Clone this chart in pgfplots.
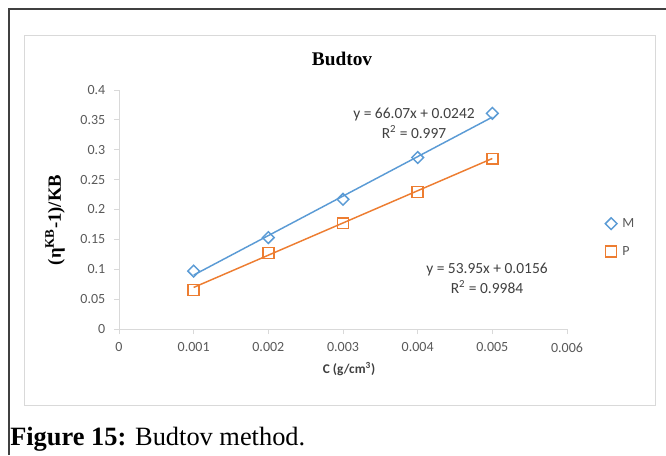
\documentclass[border=0pt]{standalone}
\usepackage{pgfplots}
\pgfplotsset{compat=1.18}
\usepackage{fontspec}
\setmainfont{Liberation Serif}
\newfontfamily\calibri{Carlito}

\definecolor{seriesM}{HTML}{5B9BD5}
\definecolor{seriesP}{HTML}{ED7D31}
\definecolor{framegray}{HTML}{404040}
\definecolor{boxgray}{HTML}{D9D9D9}
\definecolor{ticktext}{HTML}{595959}

\begin{document}
\begin{tikzpicture}
% page extent
\path[use as bounding box] (0pt,0pt) rectangle (499.5pt,-341.25pt);
% outer figure frame (left and top)
\draw[framegray, line width=1.5pt] (6.75pt,-341.25pt) -- (6.75pt,-6.75pt) -- (499.5pt,-6.75pt);
% chart area
\draw[boxgray, line width=0.75pt] (18pt,-26.25pt) rectangle (491.25pt,-303.75pt);

\begin{axis}[
  at={(89.25pt,-246.75pt)}, anchor=origin,
  scale only axis,
  width=336pt, height=179.25pt,
  xmin=0, xmax=0.006, ymin=0, ymax=0.4,
  axis lines=left,
  axis line style={boxgray, line width=0.75pt, -},
  scaled x ticks=false, scaled y ticks=false,
  xtick={0,0.001,0.002,0.003,0.004,0.005,0.006},
  ytick={0,0.05,0.1,0.15,0.2,0.25,0.3,0.35,0.4},
  xticklabels={0,0.001,0.002,0.003,0.004,0.005,0.006},
  yticklabels={0,0.05,0.1,0.15,0.2,0.25,0.3,0.35,0.4},
  tick align=outside,
  major tick length=3.75pt,
  tick style={boxgray, line width=0.75pt},
  ticklabel style={font=\calibri\fontsize{10.5}{12}\selectfont, text=ticktext},
  yticklabel style={xshift=-3pt},
  xticklabel style={yshift=-3pt},
  clip=false,
  legend style={draw=none, fill=none, at={(1.085,0.383)}, anchor=west,
    font=\calibri\fontsize{10.5}{12}\selectfont, text=ticktext,
    row sep=12.5pt, inner sep=0pt, nodes={inner xsep=1.5pt, inner ysep=0pt},
    /tikz/every odd column/.append style={column sep=2.5pt}},
  legend cell align=left,
  legend image code/.code={\draw plot coordinates {(0.15cm,0cm)};},
]
% trendlines
\addplot[seriesM, line width=1.1pt, forget plot] coordinates {(0.001,0.0903) (0.005,0.3546)};
\addplot[seriesP, line width=1.1pt, forget plot] coordinates {(0.001,0.0696) (0.005,0.2854)};
% measured points
\addplot[only marks, mark=square, mark size=3.1pt,
  mark options={seriesM, fill=white, line width=1.1pt, rotate=45},
  legend image code/.code={\draw plot coordinates {(0.15cm,0cm)};}]
  coordinates {(0.001,0.097) (0.002,0.153) (0.003,0.217) (0.004,0.287) (0.005,0.361)};
\addlegendentry{M}
\addplot[only marks, mark=square, mark size=4.1pt,
  mark options={seriesP, fill=white, line width=1.1pt},
  legend image code/.code={\draw plot coordinates {(0.15cm,0cm)};}]
  coordinates {(0.001,0.065) (0.002,0.127) (0.003,0.177) (0.004,0.229) (0.005,0.285)};
\addlegendentry{P}
\end{axis}

% titles and labels
\node[font=\bfseries\fontsize{14.5}{16}\selectfont] at (256.5pt,-44.25pt) {Budtov};
\node[rotate=90, font=\bfseries\fontsize{14}{16}\selectfont] at (41.25pt,-165pt) {(η\textsuperscript{KB}-1)/KB};
\node[font=\calibri\bfseries\fontsize{10}{12}\selectfont, text=framegray] at (261.75pt,-276.75pt) {C (g/cm\textsuperscript{3})};
\node[align=center, font=\calibri\fontsize{11.6}{15}\selectfont, text=framegray] at (310.5pt,-92.25pt) {y = 66.07x + 0.0242\\R\textsuperscript{2} = 0.997};
\node[align=center, font=\calibri\fontsize{11.6}{15}\selectfont, text=framegray] at (365.25pt,-208.5pt) {y = 53.95x + 0.0156\\R\textsuperscript{2} = 0.9984};
% caption
\node[anchor=base west, inner sep=0pt, font=\fontsize{19.8}{23}\selectfont] at (7.5pt,-334pt) {\textbf{Figure 15:} Budtov method.};
\end{tikzpicture}
\end{document}
